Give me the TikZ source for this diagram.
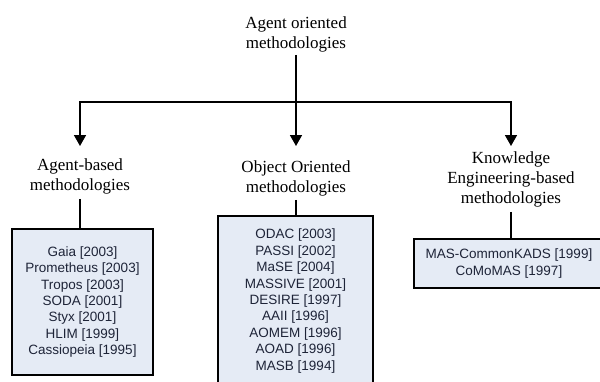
\documentclass[tikz,border=0pt]{standalone}
\usepackage{fontspec}
\setmainfont{Liberation Serif}
\newfontfamily\boxfont{Liberation Sans}
\usetikzlibrary{arrows.meta}
\definecolor{boxfill}{HTML}{E5EBF5}
\definecolor{boxtext}{HTML}{1E2438}
\tikzset{
  conn/.style={line width=1.6pt, black},
  arr/.style={conn, -{Triangle[width=12pt,length=11pt]}},
  heading/.style={inner sep=0pt, outer sep=0pt, anchor=north, align=center,
    font=\fontsize{17}{20}\selectfont, text=black},
  listbox/.style={draw=black, line width=1.6pt, fill=boxfill, inner sep=0pt,
    align=center, text=boxtext, font=\boxfont\fontsize{13.5}{16.4}\selectfont}
}
\begin{document}
\begin{tikzpicture}[x=1pt,y=-1pt]
\useasboundingbox (0,0) rectangle (600,381);
\begin{scope}
\clip (0,0) rectangle (600,381);
% title
\node[heading] (top) at (296,16.5) {Agent oriented\\methodologies};
\coordinate (j) at (296,102);
\coordinate (t1) at (80,146);
\coordinate (t2) at (296,146);
\coordinate (t3) at (511,146);
\draw[conn] ([yshift=-3pt]top.south) -- (j);
\draw[arr] (j) -| (t1);
\draw[arr] (j) -- (t2);
\draw[arr] (j) -| (t3);
% headings
\node[heading] (h1) at (80,158.4) {Agent-based\\methodologies};
\node[heading] (h2) at (296,160.4) {Object Oriented\\methodologies};
\node[heading] (h3) at (511,151.4) {Knowledge\\Engineering-based\\methodologies};
% boxes
\node[listbox, minimum width=141pt, minimum height=146pt] (b1) at (82.5,302)
  {Gaia [2003]\\Prometheus [2003]\\Tropos [2003]\\SODA [2001]\\Styx [2001]\\HLIM [1999]\\Cassiopeia [1995]};
\node[listbox, minimum width=155pt, minimum height=170pt] (b2) at (295.5,301)
  {ODAC [2003]\\PASSI [2002]\\MaSE [2004]\\MASSIVE [2001]\\DESIRE [1997]\\AAII [1996]\\AOMEM [1996]\\AOAD [1996]\\MASB [1994]};
\node[listbox, minimum width=190pt, minimum height=49pt] (b3) at (509,263.5)
  {MAS-CommonKADS [1999]\\CoMoMAS [1997]};
% heading to box
\draw[conn] ([yshift=-5pt]h1.south) -- (h1.south |- b1.north);
\draw[conn] ([yshift=-4pt]h2.south) -- (h2.south |- b2.north);
\draw[conn] ([yshift=-5pt]h3.south) -- (h3.south |- b3.north);
\end{scope}
\end{tikzpicture}
\end{document}
